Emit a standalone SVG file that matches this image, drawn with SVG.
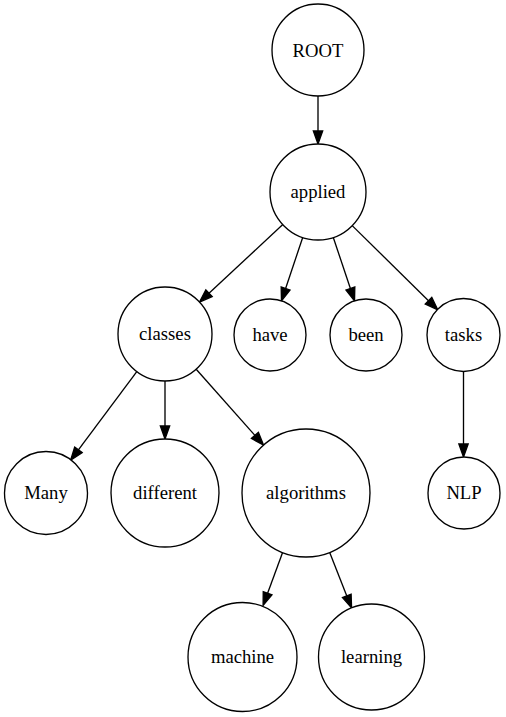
<svg xmlns="http://www.w3.org/2000/svg" width="506" height="717" viewBox="0 0 506 717">
<defs>
<style>
.n circle{fill:#fff;stroke:#000;stroke-width:1.33}
.n text{font-family:"Liberation Serif","Times New Roman","DejaVu Serif",serif;font-size:18.67px;text-anchor:middle;fill:#000}
.e line{stroke:#000;stroke-width:1.33}
</style>
<marker id="ah" markerUnits="userSpaceOnUse" markerWidth="14" markerHeight="10" refX="0" refY="4.65" orient="auto" overflow="visible">
<path d="M0,0 L13,4.65 L0,9.3 Z" fill="#000" stroke="#000" stroke-width="1.33"/>
</marker>
</defs>
<rect width="506" height="717" fill="#fff"/>
<g id="edges" class="e">
<line x1="318" y1="96" x2="318" y2="131" marker-end="url(#ah)"/>
<line x1="282.8" y1="224.6" x2="209" y2="293.2" marker-end="url(#ah)"/>
<line x1="302.7" y1="237.5" x2="285.6" y2="288.5" marker-end="url(#ah)"/>
<line x1="333.3" y1="237.5" x2="350.4" y2="288.5" marker-end="url(#ah)"/>
<line x1="352.2" y1="225.6" x2="428.5" y2="300.7" marker-end="url(#ah)"/>
<line x1="136.8" y1="371.6" x2="78.4" y2="449.8" marker-end="url(#ah)"/>
<line x1="165" y1="381" x2="165" y2="426" marker-end="url(#ah)"/>
<line x1="196.2" y1="369.2" x2="254.9" y2="435.4" marker-end="url(#ah)"/>
<line x1="463.5" y1="371.5" x2="463.5" y2="444" marker-end="url(#ah)"/>
<line x1="282.6" y1="552.6" x2="267.6" y2="593.2" marker-end="url(#ah)"/>
<line x1="329.7" y1="552.5" x2="346.8" y2="595.9" marker-end="url(#ah)"/>
</g>
<g id="ROOT" class="n"><circle cx="318" cy="50" r="46"/><text x="318" y="57">ROOT</text></g>
<g id="applied" class="n"><circle cx="318" cy="192" r="48"/><text x="318" y="198">applied</text></g>
<g id="classes" class="n"><circle cx="165" cy="334" r="47"/><text x="165" y="340">classes</text></g>
<g id="have" class="n"><circle cx="270" cy="335" r="36"/><text x="270" y="341">have</text></g>
<g id="been" class="n"><circle cx="366" cy="335" r="36"/><text x="366" y="341">been</text></g>
<g id="tasks" class="n"><circle cx="463.5" cy="335" r="36.5"/><text x="463.5" y="341">tasks</text></g>
<g id="Many" class="n"><circle cx="46" cy="493" r="41.5"/><text x="46" y="499">Many</text></g>
<g id="different" class="n"><circle cx="165" cy="493" r="54"/><text x="165" y="499">different</text></g>
<g id="algorithms" class="n"><circle cx="306" cy="493" r="64"/><text x="306" y="499">algorithms</text></g>
<g id="NLP" class="n"><circle cx="464" cy="493" r="36"/><text x="464" y="499">NLP</text></g>
<g id="machine" class="n"><circle cx="242.5" cy="657" r="54.5"/><text x="242.5" y="663">machine</text></g>
<g id="learning" class="n"><circle cx="371.5" cy="657" r="53"/><text x="371.5" y="663">learning</text></g>
</svg>
